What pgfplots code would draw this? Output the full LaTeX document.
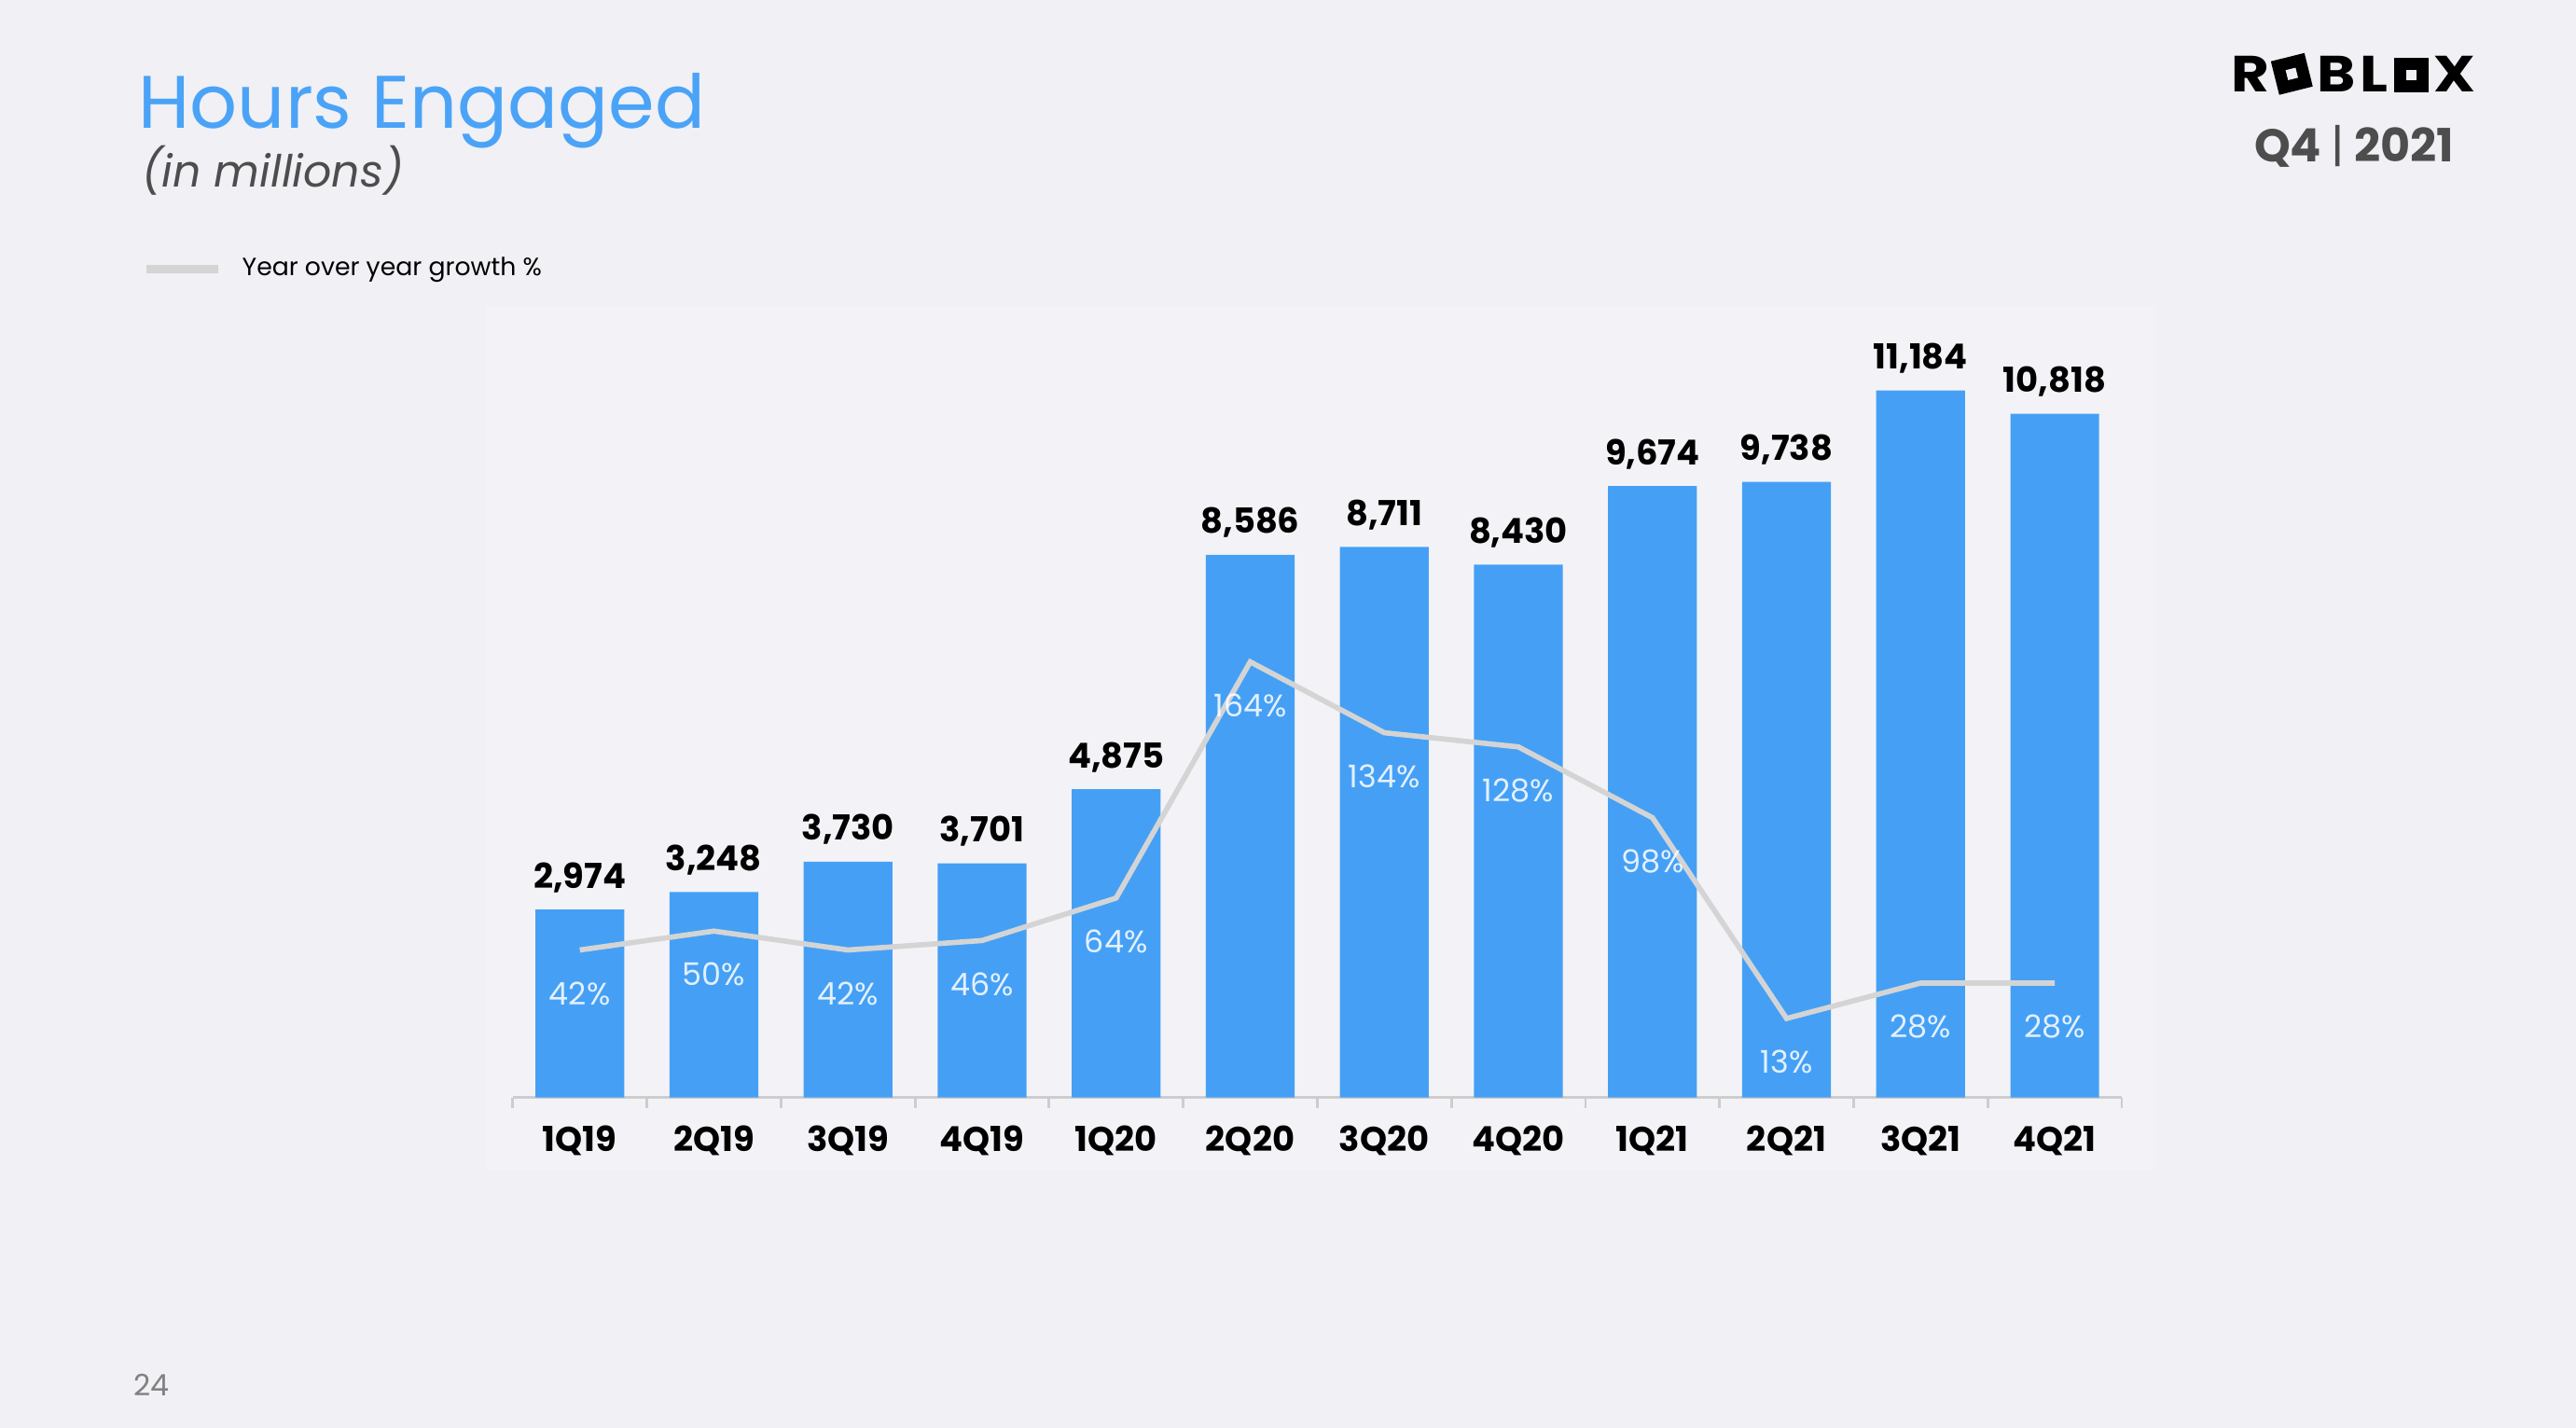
\documentclass[border=0pt]{standalone}
\usepackage{fontspec}
\setmainfont{Poppins}
\usepackage{pgfplots}
\usepackage{pgfplotstable}
\pgfplotsset{compat=1.18}

\definecolor{bg}{RGB}{240,240,245}
\definecolor{panel}{RGB}{243,243,247}
\definecolor{barblue}{RGB}{69,160,245}
\definecolor{titleblue}{RGB}{74,163,247}
\definecolor{growth}{RGB}{212,212,212}
\definecolor{darkgrey}{RGB}{77,77,77}
\definecolor{axisgrey}{RGB}{205,205,205}

% hours engaged (millions) and year over year growth (%)
\pgfplotstableread{
idx hours growth
0   2974  42
1   3248  50
2   3730  42
3   3701  46
4   4875  64
5   8586  164
6   8711  134
7   8430  128
8   9674  98
9   9738  13
10  11184 28
11  10818 28
}\hourstable

\begin{document}
\begin{tikzpicture}[x=0.017615cm,y=0.017615cm]
% slide background
\fill[bg] (0,0) rectangle (1568,869);
\fill[panel] (296,157) rectangle (1312,683);

% titles
\node[anchor=base west, inner sep=0, text=titleblue, font=\fontsize{22.7}{27}\selectfont] at (84,791) {Hours Engaged};
\node[anchor=base west, inner sep=0, text=darkgrey, font=\itshape\fontsize{13.5}{16}\selectfont] at (86,755) {(in millions)};

% legend
\draw[growth, line width=2.5pt] (89,705) -- (133,705);
\node[anchor=west, inner sep=0, font=\fontsize{7.6}{9}\selectfont] at (147,705) {Year over year growth \%};

% page number
\node[anchor=west, inner sep=0, text=gray, font=\fontsize{9}{11}\selectfont] at (81,26) {24};

% logo
\tikzset{logo/.style={anchor=base west, inner sep=0, xscale=1.15, font=\bfseries\fontsize{15.5}{18}\selectfont}}
\node[logo] at (1358,813) {R};
\node[fill=black, minimum size=0.37cm, inner sep=0, rotate=14] at (1395,824) {};
\node[fill=bg, minimum size=0.11cm, inner sep=0, rotate=14] at (1395,824) {};
\node[logo] at (1410,813) {B};
\node[logo] at (1436,813) {L};
\node[fill=black, minimum size=0.37cm, inner sep=0] at (1467.5,823.5) {};
\node[fill=bg, minimum size=0.11cm, inner sep=0] at (1467.5,823.5) {};
\node[logo] at (1481,813) {X};
\node[text=darkgrey, font=\bfseries\fontsize{14}{17}\selectfont] at (1433,780) {Q4 {\mdseries|} 2021};

% bars
\begin{axis}[
  at={(5.496cm,3.541cm)}, anchor=south west,
  scale only axis, width=17.245cm, height=8.466cm,
  ybar, bar width=0.951cm,
  xmin=-0.5, xmax=11.5, ymin=0, ymax=12500,
  axis x line*=bottom, axis y line=none,
  x axis line style={axisgrey, line width=1pt, -},
  xtick={0,...,11},
  xticklabels={1Q19,2Q19,3Q19,4Q19,1Q20,2Q20,3Q20,4Q20,1Q21,2Q21,3Q21,4Q21},
  major tick length=0pt,
  minor xtick={-0.5,0.5,...,11.5},
  minor tick length=0.11cm, tick align=outside,
  minor tick style={axisgrey, line width=0.8pt},
  xticklabel style={font=\bfseries\fontsize{10.5}{12}\selectfont, anchor=base, yshift=-16.5pt},
  /pgf/number format/fixed,
  /pgf/number format/1000 sep={,},
  /pgf/number format/assume math mode=true,
  nodes near coords,
  nodes near coords style={font=\bfseries\fontsize{10.5}{12}\selectfont, anchor=base, inner sep=0, yshift=6.5pt, text=black},
]
\addplot[fill=barblue, draw=none] table[x=idx, y=hours] {\hourstable};
\end{axis}

% growth line
\begin{axis}[
  at={(5.496cm,3.541cm)}, anchor=south west,
  scale only axis, width=17.245cm, height=8.466cm,
  xmin=-0.5, xmax=11.5, ymin=-20.4, ymax=314.1,
  hide axis,
  /pgf/number format/assume math mode=true,
]
\addplot[growth, line width=1.6pt, mark=none,
  nodes near coords={\pgfmathprintnumber{\pgfplotspointmeta}\%},
  nodes near coords style={text=white, text opacity=0.85, anchor=base, inner sep=0, yshift=-16.7pt, font=\fontsize{9.5}{11}\selectfont}]
  table[x=idx, y=growth] {\hourstable};
\end{axis}
\end{tikzpicture}
\end{document}
